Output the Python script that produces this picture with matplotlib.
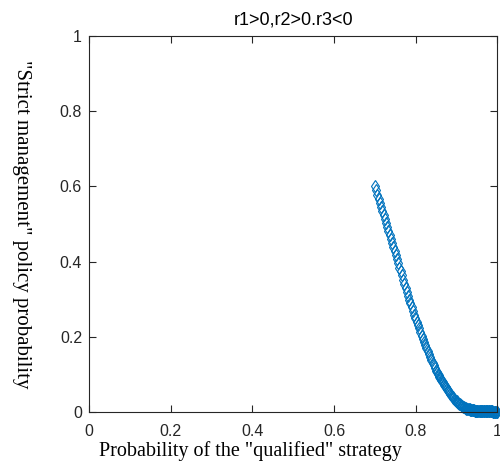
import matplotlib
matplotlib.use('Agg')
import matplotlib.pyplot as plt

# trajectory (dense near the end point)
x = [0.700, 0.703, 0.706, 0.709, 0.712, 0.715, 0.718, 0.721, 0.724, 0.727,
     0.730, 0.733, 0.736, 0.739, 0.742, 0.745, 0.748, 0.751, 0.754, 0.757,
     0.760, 0.763, 0.766, 0.769, 0.772, 0.775, 0.778, 0.781, 0.784, 0.787,
     0.790, 0.793, 0.796, 0.799, 0.802, 0.805, 0.808, 0.811, 0.814, 0.817,
     0.820, 0.823, 0.826, 0.829, 0.832, 0.835, 0.838, 0.841, 0.844, 0.847,
     0.850, 0.852, 0.854, 0.856, 0.858, 0.860, 0.862, 0.864, 0.866, 0.868,
     0.870, 0.872, 0.874, 0.876, 0.878, 0.880, 0.882, 0.884, 0.886, 0.888,
     0.890, 0.892, 0.894, 0.896, 0.898, 0.900, 0.902, 0.904, 0.906, 0.908,
     0.910, 0.912, 0.914, 0.916, 0.918, 0.920, 0.922, 0.924, 0.926, 0.928,
     0.930, 0.932, 0.933, 0.935, 0.936, 0.938, 0.939, 0.941, 0.942, 0.944,
     0.945, 0.947, 0.948, 0.950, 0.951, 0.953, 0.954, 0.956, 0.957, 0.959,
     0.960, 0.962, 0.963, 0.965, 0.966, 0.968, 0.969, 0.971, 0.972, 0.974,
     0.975, 0.977, 0.978, 0.980, 0.981, 0.983, 0.984, 0.986, 0.987, 0.989,
     0.990, 0.992, 0.993, 0.995, 0.996, 0.998, 1.000]
y = [0.600, 0.589, 0.578, 0.567, 0.556, 0.546, 0.535, 0.524, 0.514, 0.503,
     0.492, 0.481, 0.471, 0.460, 0.449, 0.438, 0.428, 0.417, 0.406, 0.395,
     0.384, 0.374, 0.363, 0.352, 0.341, 0.330, 0.320, 0.309, 0.299, 0.289,
     0.279, 0.269, 0.259, 0.250, 0.240, 0.231, 0.222, 0.212, 0.203, 0.194,
     0.186, 0.177, 0.169, 0.161, 0.153, 0.146, 0.138, 0.131, 0.124, 0.117,
     0.110, 0.106, 0.102, 0.098, 0.094, 0.090, 0.086, 0.082, 0.079, 0.075,
     0.072, 0.068, 0.065, 0.062, 0.058, 0.055, 0.052, 0.049, 0.046, 0.043,
     0.040, 0.038, 0.035, 0.033, 0.030, 0.028, 0.026, 0.024, 0.022, 0.020,
     0.018, 0.017, 0.015, 0.014, 0.012, 0.011, 0.010, 0.009, 0.008, 0.0075,
     0.0070, 0.0065, 0.0060, 0.0055, 0.0050, 0.0048, 0.0045, 0.0042, 0.0040, 0.0038,
     0.0036, 0.0034, 0.0032, 0.0030, 0.0029, 0.0028, 0.0027, 0.0026, 0.0025, 0.0024,
     0.0023, 0.0022, 0.0021, 0.0020, 0.0020, 0.0019, 0.0018, 0.0018, 0.0017, 0.0016,
     0.0016, 0.0015, 0.0015, 0.0014, 0.0014, 0.0013, 0.0013, 0.0012, 0.0012, 0.0011,
     0.0011, 0.0011, 0.0010, 0.0010, 0.0010, 0.0010, 0.0010]

xticks = [0, 0.2, 0.4, 0.6, 0.8, 1]
yticks = [0, 0.2, 0.4, 0.6, 0.8, 1]
tick_labels = ['0', '0.2', '0.4', '0.6', '0.8', '1']

ax_col = '#262626'
line_col = '#0072BD'

fig = plt.figure(figsize=(5, 4.66), dpi=100)
ax = fig.add_axes([0.178, 0.116, 0.817, 0.807])

ax.plot(x, y, linestyle='none', marker='d', markersize=6.5, clip_on=False,
        markerfacecolor='none', markeredgecolor=line_col, markeredgewidth=0.8)

ax.set_xlim(0, 1)
ax.set_ylim(0, 1)
ax.set_xticks(xticks)
ax.set_yticks(yticks)
ax.set_xticklabels(tick_labels, fontfamily='Liberation Sans', fontsize=11.5)
ax.set_yticklabels(tick_labels, fontfamily='Liberation Sans', fontsize=11.5)
ax.tick_params(direction='in', length=5, width=0.8, colors=ax_col,
               top=True, right=True)
ax.tick_params(axis='x', pad=9)
ax.tick_params(axis='y', pad=5)
for s in ax.spines.values():
    s.set_color(ax_col)
    s.set_linewidth(0.8)

ax.set_title('r1>0,r2>0.r3<0', fontfamily='Liberation Sans', fontsize=13,
             color='black', pad=8)
ax.set_xlabel('Probability of the "qualified" strategy',
              fontfamily='Liberation Serif', fontsize=14.5, va='top')
ax.xaxis.set_label_coords(0.396, -0.078)
ax.set_ylabel('"Strict management" policy probability',
              fontfamily='Liberation Serif', fontsize=15, rotation=-90,
              va='center')
ax.yaxis.set_label_coords(-0.165, 0.5)

fig.savefig('out.png', dpi=100)
